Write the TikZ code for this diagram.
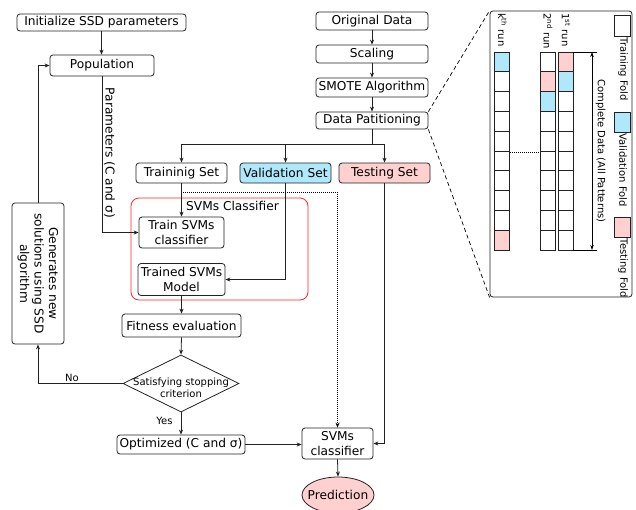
\documentclass[tikz,border=0pt]{standalone}
\usepackage{fontspec}
\setmainfont{DejaVu Sans}
\usetikzlibrary{arrows.meta,shapes.geometric}
\definecolor{cyanf}{HTML}{AEE8FA}
\definecolor{pinkf}{HTML}{FFD0D0}
\definecolor{lcol}{HTML}{222222}
\newcommand\mfont{\fontsize{12.2}{14.5}\selectfont}
\newcommand\sfnt{\fontsize{10}{12}\selectfont}
\begin{document}
\begin{tikzpicture}[x=1pt,y=-1pt,
  box/.style={draw=lcol, rounded corners=3pt, line width=0.8pt, inner sep=0pt, align=center, font=\mfont},
  arr/.style={-{Stealth[length=5pt,width=4pt]}, line width=0.8pt, draw=lcol},
  ln/.style={line width=0.8pt, draw=lcol},
  cell/.style={draw=lcol, line width=0.8pt},
  lab/.style={font=\sfnt, inner sep=0pt}]
\useasboundingbox (0,0) rectangle (636,509);

% left / main flow
\node[box, minimum width=169pt, minimum height=17pt] (init) at (101.5,22.5) {Initialize SSD parameters};
\node[box, minimum width=104pt, minimum height=21pt] (pop) at (102,65.5) {Population};
\node[box, minimum width=112pt, minimum height=18pt] (orig) at (372,21) {Original Data};
\node[box, minimum width=112pt, minimum height=18pt] (scal) at (372,54) {Scaling};
\node[box, minimum width=112pt, minimum height=19pt] (smote) at (372,87.5) {SMOTE Algorithm};
\node[box, minimum width=112pt, minimum height=17pt] (part) at (372,120.5) {Data Patitioning};
\node[box, minimum width=91pt, minimum height=20pt] (trs) at (181.5,173) {Traininig Set};
\node[box, minimum width=91pt, minimum height=20pt, fill=cyanf] (vas) at (285.5,173) {Validation Set};
\node[box, minimum width=91pt, minimum height=20pt, fill=pinkf] (tes) at (384.5,173) {Testing Set};

\node[draw=red!85, line width=0.8pt, rounded corners=8pt, minimum width=177pt, minimum height=102pt, inner sep=0pt] (grp) at (219.5,249) {};
\node[font=\mfont, inner sep=0pt] (grplab) at (232.5,205.5) {SVMs Classifier};
\node[box, minimum width=85pt, minimum height=31pt] (trsvm) at (181.5,232.5) {Train SVMs\\classifier};
\node[box, minimum width=87pt, minimum height=32pt] (trdsvm) at (181.5,279.5) {Trained SVMs\\Model};
\node[box, minimum width=119pt, minimum height=23pt] (fit) at (181.5,325.5) {Fitness evaluation};
\node[draw=lcol, line width=0.8pt, diamond, minimum width=116pt, minimum height=57pt, inner sep=0pt] (dia) at (181,383.5) {};
\node[lab, align=center] (diatxt) at (181,387.5) {Satisfying stopping\\criterion};
\node[box, rotate=-90, minimum width=141pt, minimum height=52pt] (gen) at (38,273.5) {Generates new\\solutions using SSD\\algorithm};
\node[box, minimum width=128pt, minimum height=19pt] (opt) at (181,444.5) {Optimized (C and σ)};
\node[box, minimum width=71pt, minimum height=31pt] (svmc) at (337.5,443.5) {SVMs\\classifier};
\node[draw=lcol, line width=0.8pt, ellipse, fill=pinkf, minimum width=72pt, minimum height=36pt, inner sep=0pt,
      label={[font=\mfont, inner sep=0pt]center:Prediction}] (pred) at (338,495) {};

\node[lab] (nolab) at (72,377.5) {No};
\node[lab] (yeslab) at (164.5,421) {Yes};
\node[rotate=-90, font=\mfont, inner sep=0pt] (plab) at (109.5,153) {Parameters (C and σ)};

% connectors
\draw[arr] (init.south) -- (init.south |- pop.north);
\draw[arr] (orig) -- (scal);
\draw[arr] (scal) -- (smote);
\draw[arr] (smote) -- (part);
\coordinate (brl) at (181.5,144);
\coordinate (brr) at (384.5,144);
\draw[ln] (part.south) -- (part.south |- brl);
\draw[ln] (brl) -- (brr);
\draw[arr] (brl) -- (trs.north);
\draw[arr] (vas.north |- brl) -- (vas.north);
\draw[arr] (brr) -- (tes.north);
\draw[arr] (pop.south) |- (trsvm.west);
\draw[arr] (trs.south) -- (trsvm.north);
\draw[arr] (vas.south) |- (trdsvm.east);
\draw[arr] (trdsvm.south) -- (fit.north);
\draw[arr] (fit.south) -- (dia.north);
\draw[arr] (dia.west) -| (gen.east);
\draw[arr] (gen.west) |- (pop.west);
\draw[arr] (dia.south) -- (opt.north);
\draw[arr] (opt.east) -- (opt.east -| svmc.west);
\draw[arr] (tes.south) |- (svmc.east);
\coordinate (dstart) at (183,192);
\draw[-{Stealth[length=5pt,width=4pt]}, line width=0.6pt, dash pattern=on 1pt off 1pt] (dstart) -| (svmc.north);
\draw[arr] (svmc.south) -- (pred.north);

% right panel
\node[draw=lcol, line width=0.8pt, rounded corners=3pt, minimum width=142pt, minimum height=286pt, inner sep=0pt] (panel) at (561,154) {};
\draw[line width=0.7pt, dash pattern=on 4pt off 3pt] (part.north east) -- (panel.north west);
\draw[line width=0.7pt, dash pattern=on 4pt off 3pt] (part.south east) -- (panel.south west);

% fills
\fill[cyanf] (494,52) rectangle ++(15,19.8);
\fill[pinkf] (494,{52+9*19.8}) rectangle ++(15,19.8);
\fill[pinkf] (540,{52+19.8}) rectangle ++(15,19.8);
\fill[cyanf] (540,{52+2*19.8}) rectangle ++(15,19.8);
\fill[pinkf] (558,52) rectangle ++(15,19.8);
\fill[cyanf] (558,{52+19.8}) rectangle ++(15,19.8);
\foreach \i in {0,...,9} {
  \draw[cell] (494,{52+\i*19.8}) rectangle ++(15,19.8);
  \draw[cell] (540,{52+\i*19.8}) rectangle ++(15,19.8);
  \draw[cell] (558,{52+\i*19.8}) rectangle ++(15,19.8);
}
\draw[line width=0.6pt, dash pattern=on 1pt off 1pt] (510,152) -- (539,152);

\node[lab, rotate=-90, anchor=west] (klab) at (502.5,13) {k\textsuperscript{th} run};
\node[lab, rotate=-90, anchor=west] (slab) at (548,13) {2\textsuperscript{nd} run};
\node[lab, rotate=-90, anchor=west] (flab) at (566,13) {1\textsuperscript{st} run};

\coordinate (cdt) at (592,52);
\coordinate (cdb) at (592,250);
\draw[line width=0.7pt] (573,52) -- (597,52);
\draw[line width=0.7pt] (573,250) -- (597,250);
\draw[{Stealth[length=5pt,width=3.5pt]}-{Stealth[length=5pt,width=3.5pt]}, line width=0.7pt] (cdt) -- (cdb);
\node[lab, rotate=-90] (cdlab) at (600.5,151) {Complete Data (All Patterns)};

\draw[cell, fill=white] (614,15) rectangle (630,36);
\draw[cell, fill=cyanf] (614,112) rectangle (630,132);
\draw[cell, fill=pinkf] (614,217) rectangle (630,237);
\node[lab, rotate=-90, anchor=west] (trlab) at (623,37.5) {Training Fold};
\node[lab, rotate=-90, anchor=west] (valab) at (623,133.5) {Validation Fold};
\node[lab, rotate=-90, anchor=west] (telab) at (623,238.5) {Testing Fold};
\end{tikzpicture}
\end{document}
